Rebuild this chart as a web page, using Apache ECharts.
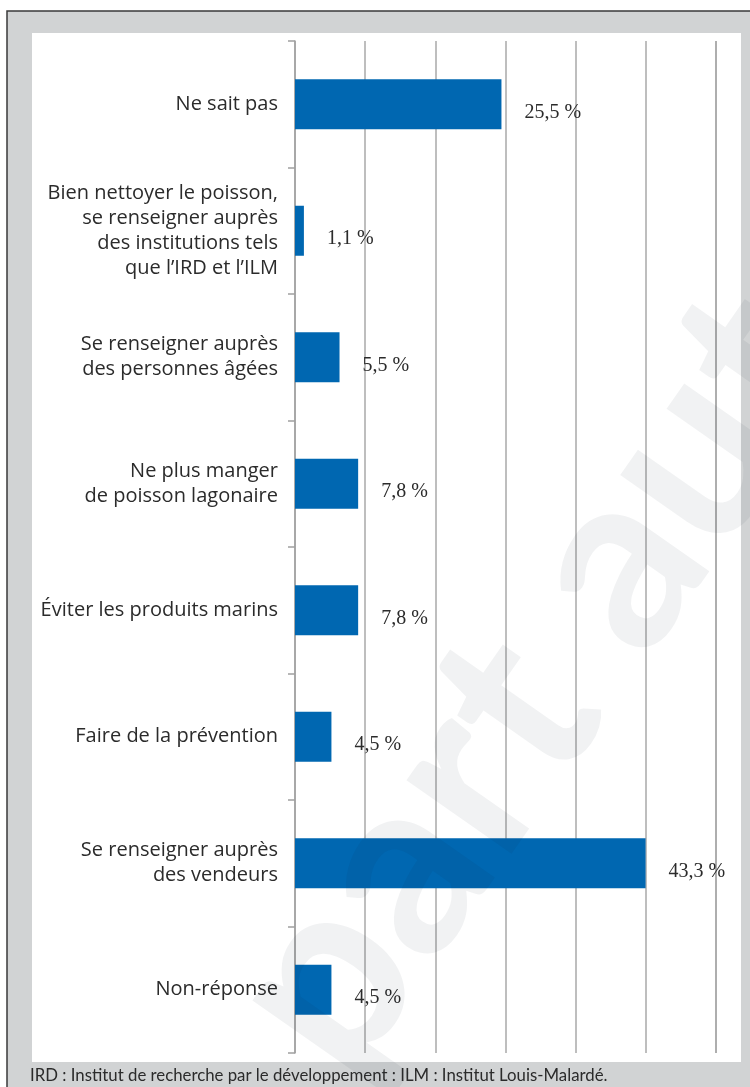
<!DOCTYPE html>
<html>
<head>
<meta charset="utf-8">
<script src="https://cdn.jsdelivr.net/npm/echarts@6/dist/echarts.min.js"></script>
<style>
html,body{margin:0;padding:0;background:#fff;}
#c{width:750px;height:1087px;}
</style>
</head>
<body>
<div id="c"></div>
<script>
const categories = [
  'Ne sait pas',
  'Bien nettoyer le poisson,\nse renseigner auprès\ndes institutions tels\nque l’IRD et l’ILM',
  'Se renseigner auprès\ndes personnes âgées',
  'Ne plus manger\nde poisson lagonaire',
  'Éviter les produits marins',
  'Faire de la prévention',
  'Se renseigner auprès\ndes vendeurs',
  'Non-réponse'
];
const values = [25.5, 1.1, 5.5, 7.8, 7.8, 4.5, 43.3, 4.5];
const caption = 'IRD : Institut de recherche par le développement : ILM : Institut Louis-Malardé.';
const watermark = 'part aut';

const chart = echarts.init(document.getElementById('c'), null, {renderer: 'canvas'});
chart.setOption({
  animation: false,
  backgroundColor: '#ffffff',
  graphic: [
    {type: 'rect', z: -10, silent: true,
     shape: {x: 7, y: 11, width: 800, height: 1100},
     style: {fill: '#d1d3d4', stroke: '#3a3a3a', lineWidth: 1.5}},
    {type: 'rect', z: -9, silent: true,
     shape: {x: 32, y: 33, width: 709, height: 1029},
     style: {fill: '#ffffff'}},
    {type: 'text', z: 10, silent: true, left: 30, top: 1067,
     style: {text: caption, font: '16.8px Lato', fill: '#2b2b2b'}},
    {type: 'text', z: 100, silent: true, x: 385, y: 1112, rotation: 55 * Math.PI / 180,
     style: {text: watermark, font: 'bold 250px Lato', fill: 'rgba(20,30,50,0.06)', textVerticalAlign: 'bottom'}}
  ],
  grid: {left: 295, right: 34, top: 41, bottom: 34, containLabel: false},
  xAxis: {
    type: 'value', min: 0, max: 52, interval: 52 / 6,
    axisLabel: {show: false}, axisLine: {show: false}, axisTick: {show: false},
    splitLine: {show: true, lineStyle: {color: '#a9a9a9', width: 1.5}}
  },
  yAxis: {
    type: 'category', data: categories, inverse: true,
    axisLine: {show: true, lineStyle: {color: '#a0a0a0', width: 1.5}},
    axisTick: {show: true, length: 7, lineStyle: {color: '#a0a0a0', width: 1.5}},
    axisLabel: {margin: 17, color: '#2b2b2b', fontFamily: 'Open Sans', fontSize: 20, lineHeight: 25, align: 'right'}
  },
  series: [{
    type: 'bar', data: values, barWidth: 50,
    itemStyle: {color: '#0067b1'},
    label: {show: true, position: 'right', distance: 23, offset: [0, 8],
      color: '#2b2b2b', fontFamily: 'Liberation Serif', fontSize: 20,
      formatter: p => String(p.value).replace('.', ',') + ' %'}
  }]
});
</script>
</body>
</html>
